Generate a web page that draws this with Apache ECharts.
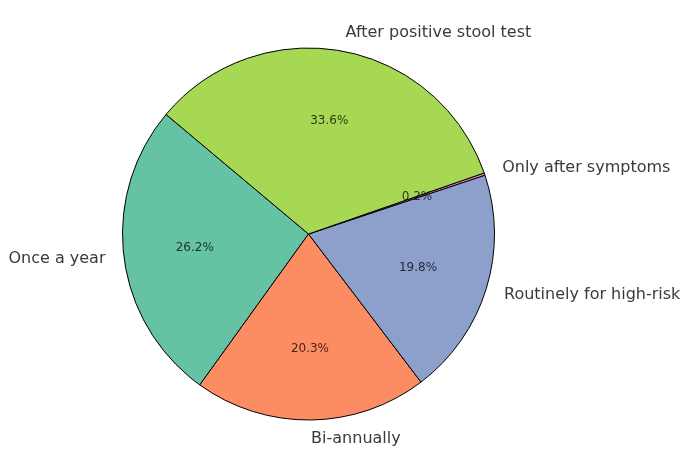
<!DOCTYPE html>
<html>
<head>
<meta charset="utf-8">
<script src="https://cdn.jsdelivr.net/npm/echarts@6/dist/echarts.min.js"></script>
<style>
html,body{margin:0;padding:0;background:#fff;}
#chart{width:684px;height:450px;}
</style>
</head>
<body>
<div id="chart"></div>
<script>
const categories = ["Once a year", "Bi-annually", "Routinely for high-risk", "Only after symptoms", "After positive stool test"];
const values = [26.2, 20.3, 19.8, 0.2, 33.6];
const colors = ["#66c2a5", "#fc8d62", "#8da0cb", "#e78ac3", "#a6d854"];

const R = 186;
const center = [308.5, 234];
const startAngle = 140;

const chart = echarts.init(document.getElementById('chart'));
const mainData = categories.map((c, i) => ({ name: c, value: values[i], itemStyle: { color: colors[i] } }));
const pctData = categories.map((c, i) => ({ name: c, value: values[i] }));

chart.setOption({
  animation: false,
  backgroundColor: '#fff',
  series: [
    {
      type: 'pie',
      center: center,
      radius: [0, R],
      startAngle: startAngle,
      clockwise: false,
      avoidLabelOverlap: false,
      silent: true,
      minShowLabelAngle: 0,
      itemStyle: { borderColor: '#000', borderWidth: 1 },
      label: {
        show: true,
        position: 'outside',
        distanceToLabelLine: 0,
        fontFamily: 'DejaVu Sans',
        fontSize: 16,
        color: '#3a3a3a',
        formatter: '{b}'
      },
      labelLine: { show: false, length: 0.1 * R, length2: 0 },
      data: mainData
    },
    {
      type: 'pie',
      center: center,
      radius: [0, 1.2 * R],
      startAngle: startAngle,
      clockwise: false,
      avoidLabelOverlap: false,
      silent: true,
      minShowLabelAngle: 0,
      itemStyle: { color: 'rgba(0,0,0,0)', borderWidth: 0 },
      label: {
        show: true,
        position: 'inside',
        fontFamily: 'DejaVu Sans',
        fontSize: 12,
        color: 'rgba(0,0,0,0.75)',
        formatter: p => p.value.toFixed(1) + '%'
      },
      labelLine: { show: false },
      data: pctData
    }
  ]
});
</script>
</body>
</html>
